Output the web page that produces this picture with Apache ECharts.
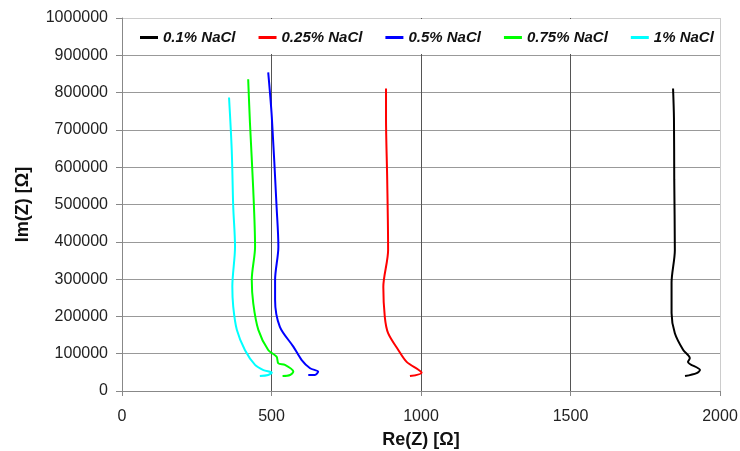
<!DOCTYPE html>
<html>
<head>
<meta charset="utf-8">
<script src="https://cdn.jsdelivr.net/npm/echarts@6/dist/echarts.min.js"></script>
<style>
  html, body { margin: 0; padding: 0; background: #fff; }
  #chart { width: 740px; height: 451px; }
</style>
</head>
<body>
<div id="chart"></div>
<script>
// Nyquist data, [Re(Z), Im(Z)]
const seriesNames = ['0.1% NaCl', '0.25% NaCl', '0.5% NaCl', '0.75% NaCl', '1% NaCl']
const seriesColors = ['#000000', '#ff0000', '#0000ff', '#00ff00', '#00ffff']

const nacl01 = [
  [1843, 811000], [1846, 732000], [1847, 566000], [1849, 378000], [1838, 290000],
  [1838, 209000], [1849, 155000], [1877, 110000], [1899, 88000], [1893, 78000],
  [1933, 56000], [1922, 48000], [1883, 40000]
]
const nacl025 = [
  [883, 811000], [883, 732000], [887, 566000], [890, 378000], [874, 279000],
  [879, 198000], [890, 155000], [924, 110000], [952, 78000], [1002, 49000],
  [963, 40000]
]
const nacl05 = [
  [489, 854000], [501, 735000], [517, 494000], [523, 387000], [512, 298000],
  [512, 244000], [528, 172000], [573, 119000], [601, 83000], [629, 61000],
  [656, 52000], [645, 43000], [623, 43000]
]
const nacl075 = [
  [422, 836000], [428, 718000], [439, 539000], [445, 387000], [434, 298000],
  [439, 235000], [456, 164000], [489, 110000], [517, 92000], [523, 74000],
  [545, 70000], [573, 52000], [562, 43000], [537, 40000]
]
const nacl1 = [
  [358, 787000], [367, 646000], [372, 494000], [378, 387000], [369, 280000],
  [372, 226000], [384, 164000], [411, 110000], [445, 70000], [473, 56000],
  [501, 49000], [489, 43000], [461, 40000]
]
const allData = [nacl01, nacl025, nacl05, nacl075, nacl1]

const chart = echarts.init(document.getElementById('chart'))
const font = 'Liberation Sans, Arial, sans-serif'

const option = {
  backgroundColor: '#fff',
  animation: false,
  grid: { left: 122, right: 20, top: 18, bottom: 60, outerBoundsMode: 'none' },
  graphic: [
    {
      // white box behind the legend, hides the grid there
      type: 'rect',
      z: 3,
      shape: { x: 123, y: 19, width: 596, height: 35 },
      style: { fill: '#fff' }
    }
  ],
  legend: {
    z: 5,
    left: 135,
    top: 25,
    itemGap: 23,
    itemWidth: 18,
    itemHeight: 3,
    icon: 'rect',
    textStyle: { fontFamily: font, fontSize: 15, fontStyle: 'italic', fontWeight: 'bold', color: '#111' },
    data: seriesNames
  },
  xAxis: {
    type: 'value',
    min: 0,
    max: 2000,
    interval: 500,
    name: 'Re(Z) [Ω]',
    nameLocation: 'middle',
    nameGap: 40,
    nameTextStyle: { fontFamily: font, fontSize: 18, fontWeight: 'bold', color: '#111' },
    axisLine: { show: true, lineStyle: { color: '#888', width: 1 } },
    axisTick: { show: true, length: 5, lineStyle: { color: '#888' } },
    axisLabel: { fontFamily: font, fontSize: 16, color: '#222', margin: 18, formatter: v => String(v) },
    splitLine: { show: true, lineStyle: { color: ['#666', '#555', '#555', '#555', '#ccc'], width: 1 } }
  },
  yAxis: {
    type: 'value',
    min: 0,
    max: 1000000,
    interval: 100000,
    name: 'Im(Z) [Ω]',
    nameLocation: 'middle',
    nameGap: 90,
    nameTextStyle: { fontFamily: font, fontSize: 18, fontWeight: 'bold', color: '#111' },
    axisLine: { show: true, lineStyle: { color: '#888', width: 1 } },
    axisTick: { show: true, length: 6, lineStyle: { color: '#888' } },
    axisLabel: { fontFamily: font, fontSize: 16, color: '#222', margin: 14, formatter: v => String(v) },
    splitLine: {
      show: true,
      lineStyle: { color: ['#999', '#999', '#999', '#999', '#999', '#999', '#999', '#999', '#999', '#999', '#ccc'], width: 1 }
    }
  },
  series: allData.map((d, i) => ({
    name: seriesNames[i],
    type: 'line',
    data: d,
    smooth: 0.3,
    showSymbol: false,
    symbol: 'none',
    color: seriesColors[i],
    lineStyle: { width: 2, color: seriesColors[i] }
  }))
}

chart.setOption(option)
window.addEventListener('resize', () => chart.resize())
</script>
</body>
</html>
